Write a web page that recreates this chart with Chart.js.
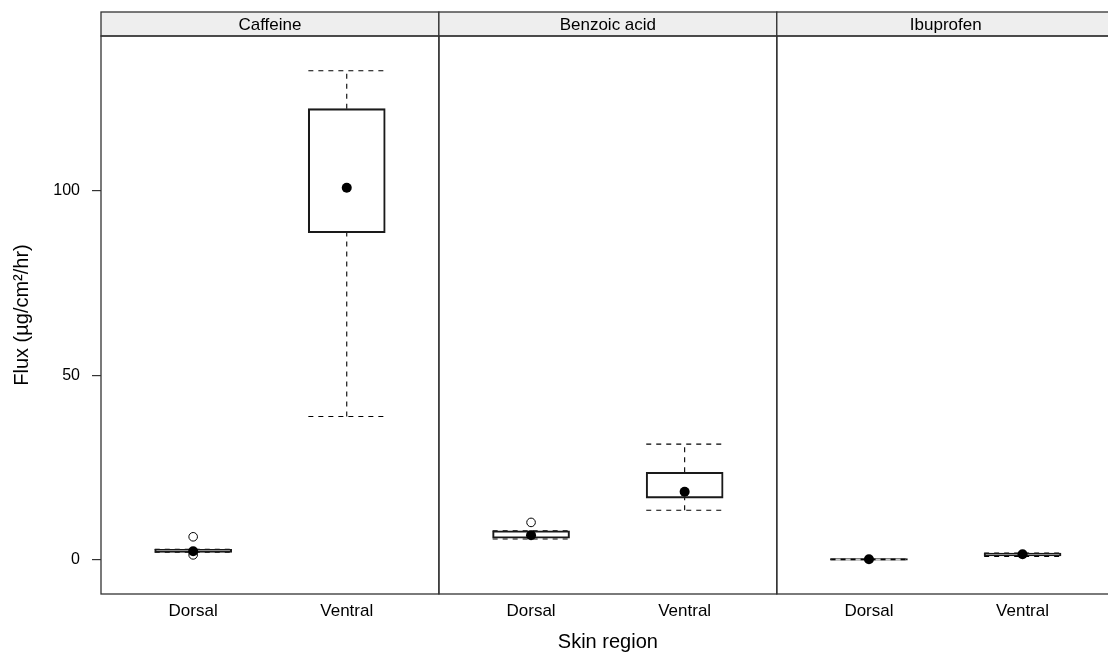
<!DOCTYPE html>
<html>
<head>
<meta charset="utf-8">
<script src="https://cdn.jsdelivr.net/npm/chart.js@4.4.1/dist/chart.umd.min.js"></script>
<style>
  html, body { margin: 0; padding: 0; background: #fff; overflow: hidden; }
  #wrap { width: 1108px; height: 655px; overflow: hidden; }
</style>
</head>
<body>
<div id="wrap"><canvas id="chart" width="1120" height="655"></canvas></div>
<script>
// panels and categories
const compounds = ['Caffeine', 'Benzoic acid', 'Ibuprofen'];
const regions = ['Dorsal', 'Ventral'];
const yTicks = [0, 50, 100];

// box stats per region: [lower whisker, q1, median, q3, upper whisker]
const caffeineStats = [[2.0, 2.0, 2.3, 2.8, 2.8], [38.8, 88.6, 100.8, 122.2, 132.5]];
const benzoicStats = [[5.6, 5.8, 6.6, 7.8, 7.8], [13.4, 16.7, 18.4, 23.7, 31.3]];
const ibuprofenStats = [[0.0, -0.15, 0.1, 0.3, 0.2], [0.9, 1.0, 1.45, 1.8, 1.8]];

// outlying points per region
const caffeineOutliers = [[6.2, 1.3], []];
const benzoicOutliers = [[10.1], []];
const ibuprofenOutliers = [[], []];

const allStats = [caffeineStats, benzoicStats, ibuprofenStats];
const allOutliers = [caffeineOutliers, benzoicOutliers, ibuprofenOutliers];

// each panel spans 2.2 units on the x scale (0.4 .. 2.6 like lattice)
const panelSpan = 2.2;
const halfBox = 0.25;
const xPos = (p, i) => p * panelSpan + (i + 1) - 0.4;

const boxes = [], medians = [], outliers = [], whiskers = [], tickPos = [];
allStats.forEach((stats, p) => {
  stats.forEach((s, i) => {
    const x = xPos(p, i);
    tickPos.push(x);
    boxes.push({ x: x, y: [s[1], s[3]] });
    medians.push({ x: x, y: s[2] });
    allOutliers[p][i].forEach(v => outliers.push({ x: x, y: v }));
    whiskers.push(
      { x: x - halfBox, y: s[0] }, { x: x + halfBox, y: s[0] }, { x: x, y: null },
      { x: x, y: s[0] }, { x: x, y: s[1] }, { x: x, y: null },
      { x: x, y: s[3] }, { x: x, y: s[4] }, { x: x, y: null },
      { x: x - halfBox, y: s[4] }, { x: x + halfBox, y: s[4] }, { x: x, y: null }
    );
  });
});

const FONT = "'Liberation Sans', Arial, Helvetica, sans-serif";

// strips + panel borders
const panelPlugin = {
  id: 'panels',
  afterDraw(chart) {
    const ctx = chart.ctx;
    const xs = chart.scales.x;
    const area = chart.chartArea;
    const stripH = 24;
    ctx.save();
    compounds.forEach((name, p) => {
      const l = xs.getPixelForValue(p * panelSpan);
      const r = xs.getPixelForValue((p + 1) * panelSpan);
      ctx.fillStyle = '#eeeeee';
      ctx.fillRect(l, area.top - stripH, r - l, stripH);
      ctx.strokeStyle = '#333';
      ctx.lineWidth = 1.3;
      ctx.strokeRect(l, area.top - stripH, r - l, stripH);
      ctx.strokeRect(l, area.top, r - l, area.bottom - area.top);
      ctx.fillStyle = '#000';
      ctx.font = '17px ' + FONT;
      ctx.textAlign = 'center';
      ctx.textBaseline = 'middle';
      ctx.fillText(name, (l + r) / 2, area.top - stripH / 2 + 1);
    });
    ctx.restore();
  }
};

new Chart(document.getElementById('chart'), {
  type: 'scatter',
  data: {
    datasets: [
      {
        type: 'scatter',
        data: medians,
        pointRadius: 5,
        pointBackgroundColor: '#000',
        pointBorderColor: '#000',
        pointBorderWidth: 0,
        order: 0
      },
      {
        type: 'scatter',
        data: outliers,
        pointRadius: 4.3,
        pointBackgroundColor: 'rgba(0,0,0,0)',
        pointBorderColor: '#000',
        pointBorderWidth: 1,
        order: 0
      },
      {
        type: 'bar',
        data: boxes,
        barThickness: 77,
        backgroundColor: 'rgba(0,0,0,0)',
        borderColor: '#1a1a1a',
        borderWidth: 1.4,
        borderSkipped: false,
        order: 1
      },
      {
        type: 'line',
        data: whiskers,
        showLine: true,
        spanGaps: false,
        pointRadius: 0,
        borderColor: '#000',
        borderWidth: 1.1,
        borderDash: [5, 5],
        order: 2
      }
    ]
  },
  options: {
    responsive: false,
    animation: false,
    layout: { padding: { top: 36, right: 3.5, left: 0, bottom: 0 } },
    plugins: { legend: { display: false }, tooltip: { enabled: false } },
    scales: {
      x: {
        type: 'linear',
        min: 0,
        max: panelSpan * compounds.length,
        offset: false,
        afterBuildTicks: (scale) => { scale.ticks = tickPos.map(v => ({ value: v })); },
        afterFit: (scale) => { scale.height = 61; },
        grid: { display: false, drawTicks: false },
        border: { display: false },
        ticks: {
          autoSkip: false,
          maxRotation: 0,
          padding: 7,
          color: '#000',
          font: { family: FONT, size: 17 },
          callback: (v, i) => regions[i % regions.length]
        },
        title: {
          display: true,
          text: 'Skin region',
          color: '#000',
          font: { family: FONT, size: 20 },
          padding: { top: 0, bottom: 1 }
        }
      },
      y: {
        min: -9.3,
        max: 141.9,
        afterBuildTicks: (scale) => { scale.ticks = yTicks.map(v => ({ value: v })); },
        afterFit: (scale) => { scale.width = 101; },
        grid: { drawOnChartArea: false, drawTicks: true, tickLength: 9, color: '#333', lineWidth: 1.2 },
        border: { display: false },
        ticks: {
          padding: 12,
          color: '#000',
          font: { family: FONT, size: 16 }
        },
        title: {
          display: true,
          text: 'Flux (µg/cm²/hr)',
          color: '#000',
          font: { family: FONT, size: 20 },
          padding: { top: 10, bottom: 0 }
        }
      }
    }
  },
  plugins: [panelPlugin]
});
</script>
</body>
</html>
